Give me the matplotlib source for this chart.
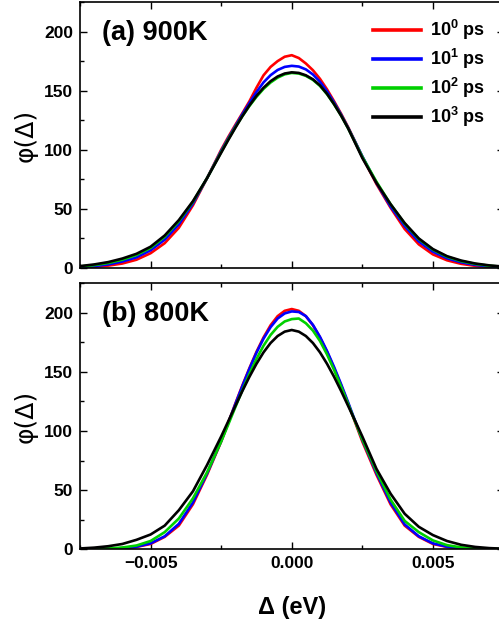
import matplotlib

matplotlib.use("Agg")
import matplotlib.pyplot as plt
from matplotlib.ticker import MultipleLocator, FixedLocator, FuncFormatter

plt.rcParams["font.family"] = ["Liberation Sans", "DejaVu Sans"]
plt.rcParams["mathtext.fontset"] = "custom"
plt.rcParams["mathtext.rm"] = "Liberation Sans:bold"
plt.rcParams["mathtext.default"] = "rm"

# energy shift grid (eV), finer around the peak
delta = [
    -0.0075, -0.0070, -0.0065, -0.0060, -0.0055, -0.0050, -0.0045, -0.0040, -0.0035, -0.0030,
    -0.0025, -0.00225, -0.0020, -0.00175, -0.0015, -0.00125, -0.0010, -0.00075, -0.0005, -0.00025,
    0.0,
    0.00025, 0.0005, 0.00075, 0.0010, 0.00125, 0.0015, 0.00175, 0.0020, 0.00225, 0.0025,
    0.0030, 0.0035, 0.0040, 0.0045, 0.0050, 0.0055, 0.0060, 0.0065, 0.0070, 0.0075,
]

# distributions at 900 K
t900_1ps = [
    0.5, 1.0, 2.0, 3.8, 7.0, 12.5, 21.0, 34.0, 53.0, 76.0,
    100.0, 110.8, 121.0, 130.9, 141.0, 152.5, 163.0, 170.1, 175.0, 178.7,
    180.0,
    177.6, 173.0, 167.3, 160.0, 151.1, 141.0, 130.4, 119.0, 106.6, 94.0,
    71.0, 51.0, 33.0, 20.0, 11.5, 6.5, 3.5, 1.8, 0.9, 0.4,
]
t900_10ps = [
    0.8, 1.6, 3.0, 5.5, 9.0, 15.0, 24.0, 37.0, 54.5, 76.0,
    99.0, 109.7, 120.0, 130.0, 139.5, 148.8, 157.0, 163.1, 167.5, 170.1,
    171.0,
    170.4, 168.0, 163.7, 157.5, 149.4, 140.0, 129.7, 118.5, 106.6, 94.5,
    72.0, 52.0, 35.5, 22.5, 13.8, 8.2, 4.8, 2.6, 1.4, 0.7,
]
t900_100ps = [
    1.3, 2.4, 4.2, 7.0, 11.0, 17.0, 26.5, 39.5, 56.0, 76.0,
    98.0, 108.8, 119.0, 128.4, 137.0, 144.8, 151.5, 156.9, 161.0, 163.8,
    165.0,
    164.5, 162.5, 159.1, 154.0, 147.0, 138.5, 128.8, 118.0, 106.0, 94.0,
    73.0, 54.0, 37.5, 24.5, 15.5, 9.5, 5.8, 3.4, 1.9, 1.0,
]
t900_1000ps = [
    1.6, 3.0, 5.0, 8.0, 12.0, 18.0, 27.5, 40.5, 56.5, 76.0,
    97.5, 108.2, 118.5, 128.4, 137.5, 145.6, 152.5, 158.0, 162.0, 164.5,
    165.5,
    165.0, 163.0, 159.6, 154.5, 147.3, 138.5, 128.8, 118.0, 105.5, 93.0,
    72.0, 54.0, 38.0, 25.0, 16.0, 10.0, 6.3, 3.8, 2.2, 1.2,
]

# distributions at 800 K
t800_1ps = [
    0.1, 0.2, 0.4, 0.9, 2.0, 4.5, 10.5, 20.0, 38.0, 63.0,
    91.0, 106.9, 123.0, 138.4, 153.0, 166.8, 179.0, 189.3, 197.0, 201.5,
    203.0,
    201.5, 197.0, 189.3, 179.0, 166.8, 153.0, 138.4, 123.0, 106.9, 91.0,
    63.0, 38.0, 20.0, 10.5, 4.5, 2.0, 0.9, 0.4, 0.2, 0.1,
]
t800_10ps = [
    0.1, 0.2, 0.4, 1.0, 2.2, 5.0, 11.0, 21.5, 39.5, 64.0,
    91.5, 106.8, 122.5, 137.8, 152.5, 166.1, 178.0, 187.7, 195.0, 199.3,
    201.0,
    200.5, 197.0, 189.6, 179.5, 167.5, 154.0, 139.4, 124.0, 108.1, 92.5,
    64.5, 39.5, 21.0, 11.0, 5.0, 2.2, 1.0, 0.4, 0.2, 0.1,
]
t800_100ps = [
    0.15, 0.3, 0.7, 1.5, 3.2, 7.0, 14.5, 26.0, 43.0, 65.0,
    91.0, 105.4, 120.0, 134.3, 148.0, 160.8, 172.0, 181.1, 188.0, 192.5,
    194.5,
    195.0, 191.0, 184.8, 176.0, 164.6, 151.5, 137.3, 122.5, 107.6, 93.0,
    66.0, 42.0, 24.0, 14.5, 7.5, 3.5, 1.6, 0.8, 0.4, 0.2,
]
t800_1000ps = [
    0.7, 1.4, 2.6, 4.5, 8.0, 12.5, 20.0, 33.0, 49.0, 71.2,
    95.3, 108.1, 121.0, 133.7, 145.7, 156.7, 166.4, 174.3, 180.2, 183.9,
    185.3,
    183.9, 180.2, 174.3, 166.4, 156.7, 145.7, 133.7, 121.0, 108.3, 95.3,
    68.0, 47.0, 30.0, 19.0, 12.0, 7.0, 3.8, 2.0, 1.0, 0.5,
]

series_labels = ["10$^{0}$ ps", "10$^{1}$ ps", "10$^{2}$ ps", "10$^{3}$ ps"]
series_colors = ["#ff0000", "#0000ff", "#00d000", "#000000"]
panels = [
    ("(a) 900K", [t900_1ps, t900_10ps, t900_100ps, t900_1000ps]),
    ("(b) 800K", [t800_1ps, t800_10ps, t800_100ps, t800_1000ps]),
]

W, H = 499, 625
fig = plt.figure(figsize=(W / 100, H / 100), dpi=100)
ax_top = fig.add_axes([80 / W, (H - 268) / H, 423.5 / W, 266 / H])
ax_bot = fig.add_axes([80 / W, (H - 549.3) / H, 423.5 / W, 266.3 / H])


def fmt_x(v, _pos):
    if abs(v) < 1e-12:
        return "0.000"
    return f"{v:.3f}".replace("-", "\u2212")


for ax, (title, curves) in zip([ax_top, ax_bot], panels):
    for ys, lab, col in zip(curves, series_labels, series_colors):
        ax.plot(delta, ys, color=col, lw=1.9, label=lab, solid_joinstyle="round")
    ax.set_xlim(-0.0075, 0.0075)
    ax.set_ylim(0, 225)
    ax.xaxis.set_major_locator(FixedLocator([-0.005, 0.0, 0.005]))
    ax.xaxis.set_minor_locator(FixedLocator([-0.0075, -0.0025, 0.0025, 0.0075]))
    ax.xaxis.set_major_formatter(FuncFormatter(fmt_x))
    ax.yaxis.set_major_locator(MultipleLocator(50))
    ax.yaxis.set_minor_locator(MultipleLocator(25))
    ax.tick_params(which="both", direction="in", top=True, right=True, width=1.0,
                   labelsize=12.5, pad=5)
    ax.tick_params(which="major", length=5)
    ax.tick_params(which="minor", length=3)
    for lbl in ax.get_xticklabels() + ax.get_yticklabels():
        lbl.set_fontweight("bold")
    for sp in ax.spines.values():
        sp.set_linewidth(1.2)
    ax.set_ylabel("φ(Δ)", fontsize=18, family="DejaVu Sans")
    ax.yaxis.set_label_coords(-0.101, 0.5)
    ax.text(0.052, 0.885, title, transform=ax.transAxes, fontsize=19.5,
            fontweight="bold", va="center", ha="left")

ax_top.tick_params(labelbottom=False)
ax_bot.set_xlabel("Δ (eV)", fontsize=17, fontweight="bold", labelpad=18)

leg = ax_top.legend(loc="upper left", bbox_to_anchor=(0.692, 0.94), frameon=False,
                    handlelength=2.65, handletextpad=0.5, labelspacing=0.27,
                    borderpad=0, borderaxespad=0, prop={"weight": "bold", "size": 13})
for line in leg.get_lines():
    line.set_linewidth(2.6)

fig.savefig("out.png", dpi=100)
